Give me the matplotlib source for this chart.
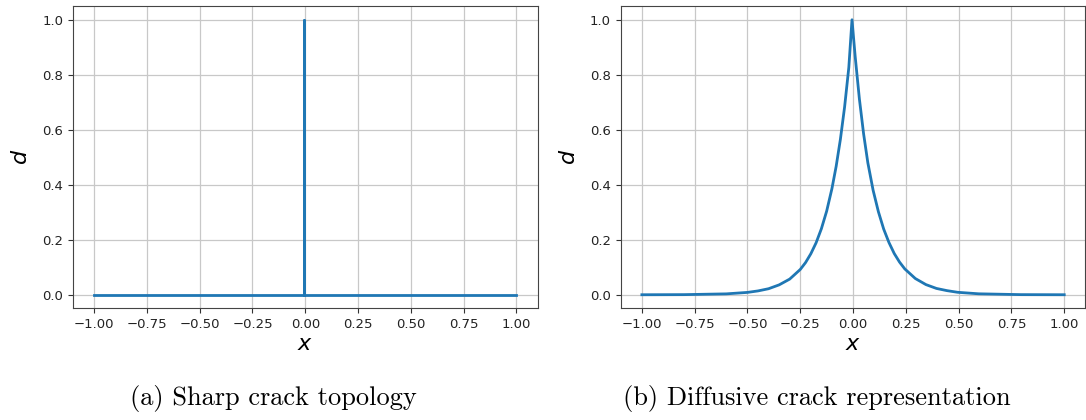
import matplotlib
matplotlib.use("Agg")
import matplotlib.pyplot as plt

# Sharp crack: d = 1 only at the crack position
x_sharp = [-1.0, -0.005, -0.005, -0.005, 1.0]
d_sharp = [0.0, 0.0, 1.0, 0.0, 0.0]

# Diffusive crack: values
x_diff = [-1.0, -0.8, -0.6, -0.5, -0.45, -0.4, -0.35, -0.3, -0.25, -0.225,
          -0.2, -0.175, -0.15, -0.125, -0.1, -0.08, -0.06, -0.04, -0.02, -0.005,
          0.01, 0.03, 0.05, 0.07, 0.095, 0.12, 0.145, 0.17, 0.195, 0.22,
          0.245, 0.295, 0.345, 0.395, 0.445, 0.495, 0.595, 0.795, 1.0]
d_diff = [0.0001, 0.0005, 0.0033, 0.0086, 0.014, 0.022, 0.036, 0.057, 0.092, 0.117,
          0.149, 0.189, 0.240, 0.304, 0.386, 0.467, 0.565, 0.683, 0.827, 1.0,
          0.867, 0.712, 0.585, 0.480, 0.380, 0.302, 0.239, 0.190, 0.150, 0.119,
          0.094, 0.059, 0.037, 0.023, 0.015, 0.009, 0.0035, 0.0005, 0.0001]

xticks = [-1.0, -0.75, -0.5, -0.25, 0.0, 0.25, 0.5, 0.75, 1.0]
yticks = [0.0, 0.2, 0.4, 0.6, 0.8, 1.0]
captions = ["(a) Sharp crack topology", "(b) Diffusive crack representation"]

fig = plt.figure(figsize=(10.86, 4.2), dpi=100)
ax1 = fig.add_axes([0.0672, 0.2655, 0.4278, 0.7202])
ax2 = fig.add_axes([0.5716, 0.2655, 0.4278, 0.7202])

# caption shift (px) relative to axes centre
shifts = [-32, -36]

for ax, xs, ds, cap, sh in [(ax1, x_sharp, d_sharp, captions[0], shifts[0]),
                            (ax2, x_diff, d_diff, captions[1], shifts[1])]:
    ax.plot(xs, ds, color="#1f77b4", lw=2)
    ax.set_xticks(xticks)
    ax.set_yticks(yticks)
    ax.tick_params(labelsize=9.5, colors="#333333", labelcolor="#222222")
    ax.grid(True, color="#c8c8c8", lw=0.9)
    for sp in ax.spines.values():
        sp.set_color("#444444")
    ax.set_xlabel("$x$", fontsize=16, labelpad=2)
    ax.set_ylabel("$d$", fontsize=16, labelpad=8)
    pos = ax.get_position()
    fig.text(pos.x0 + pos.width / 2 + sh / 1086, 0.05, cap, family="cmr10",
             fontsize=19, ha="center", va="center")

fig.savefig("out.png", dpi=100)
